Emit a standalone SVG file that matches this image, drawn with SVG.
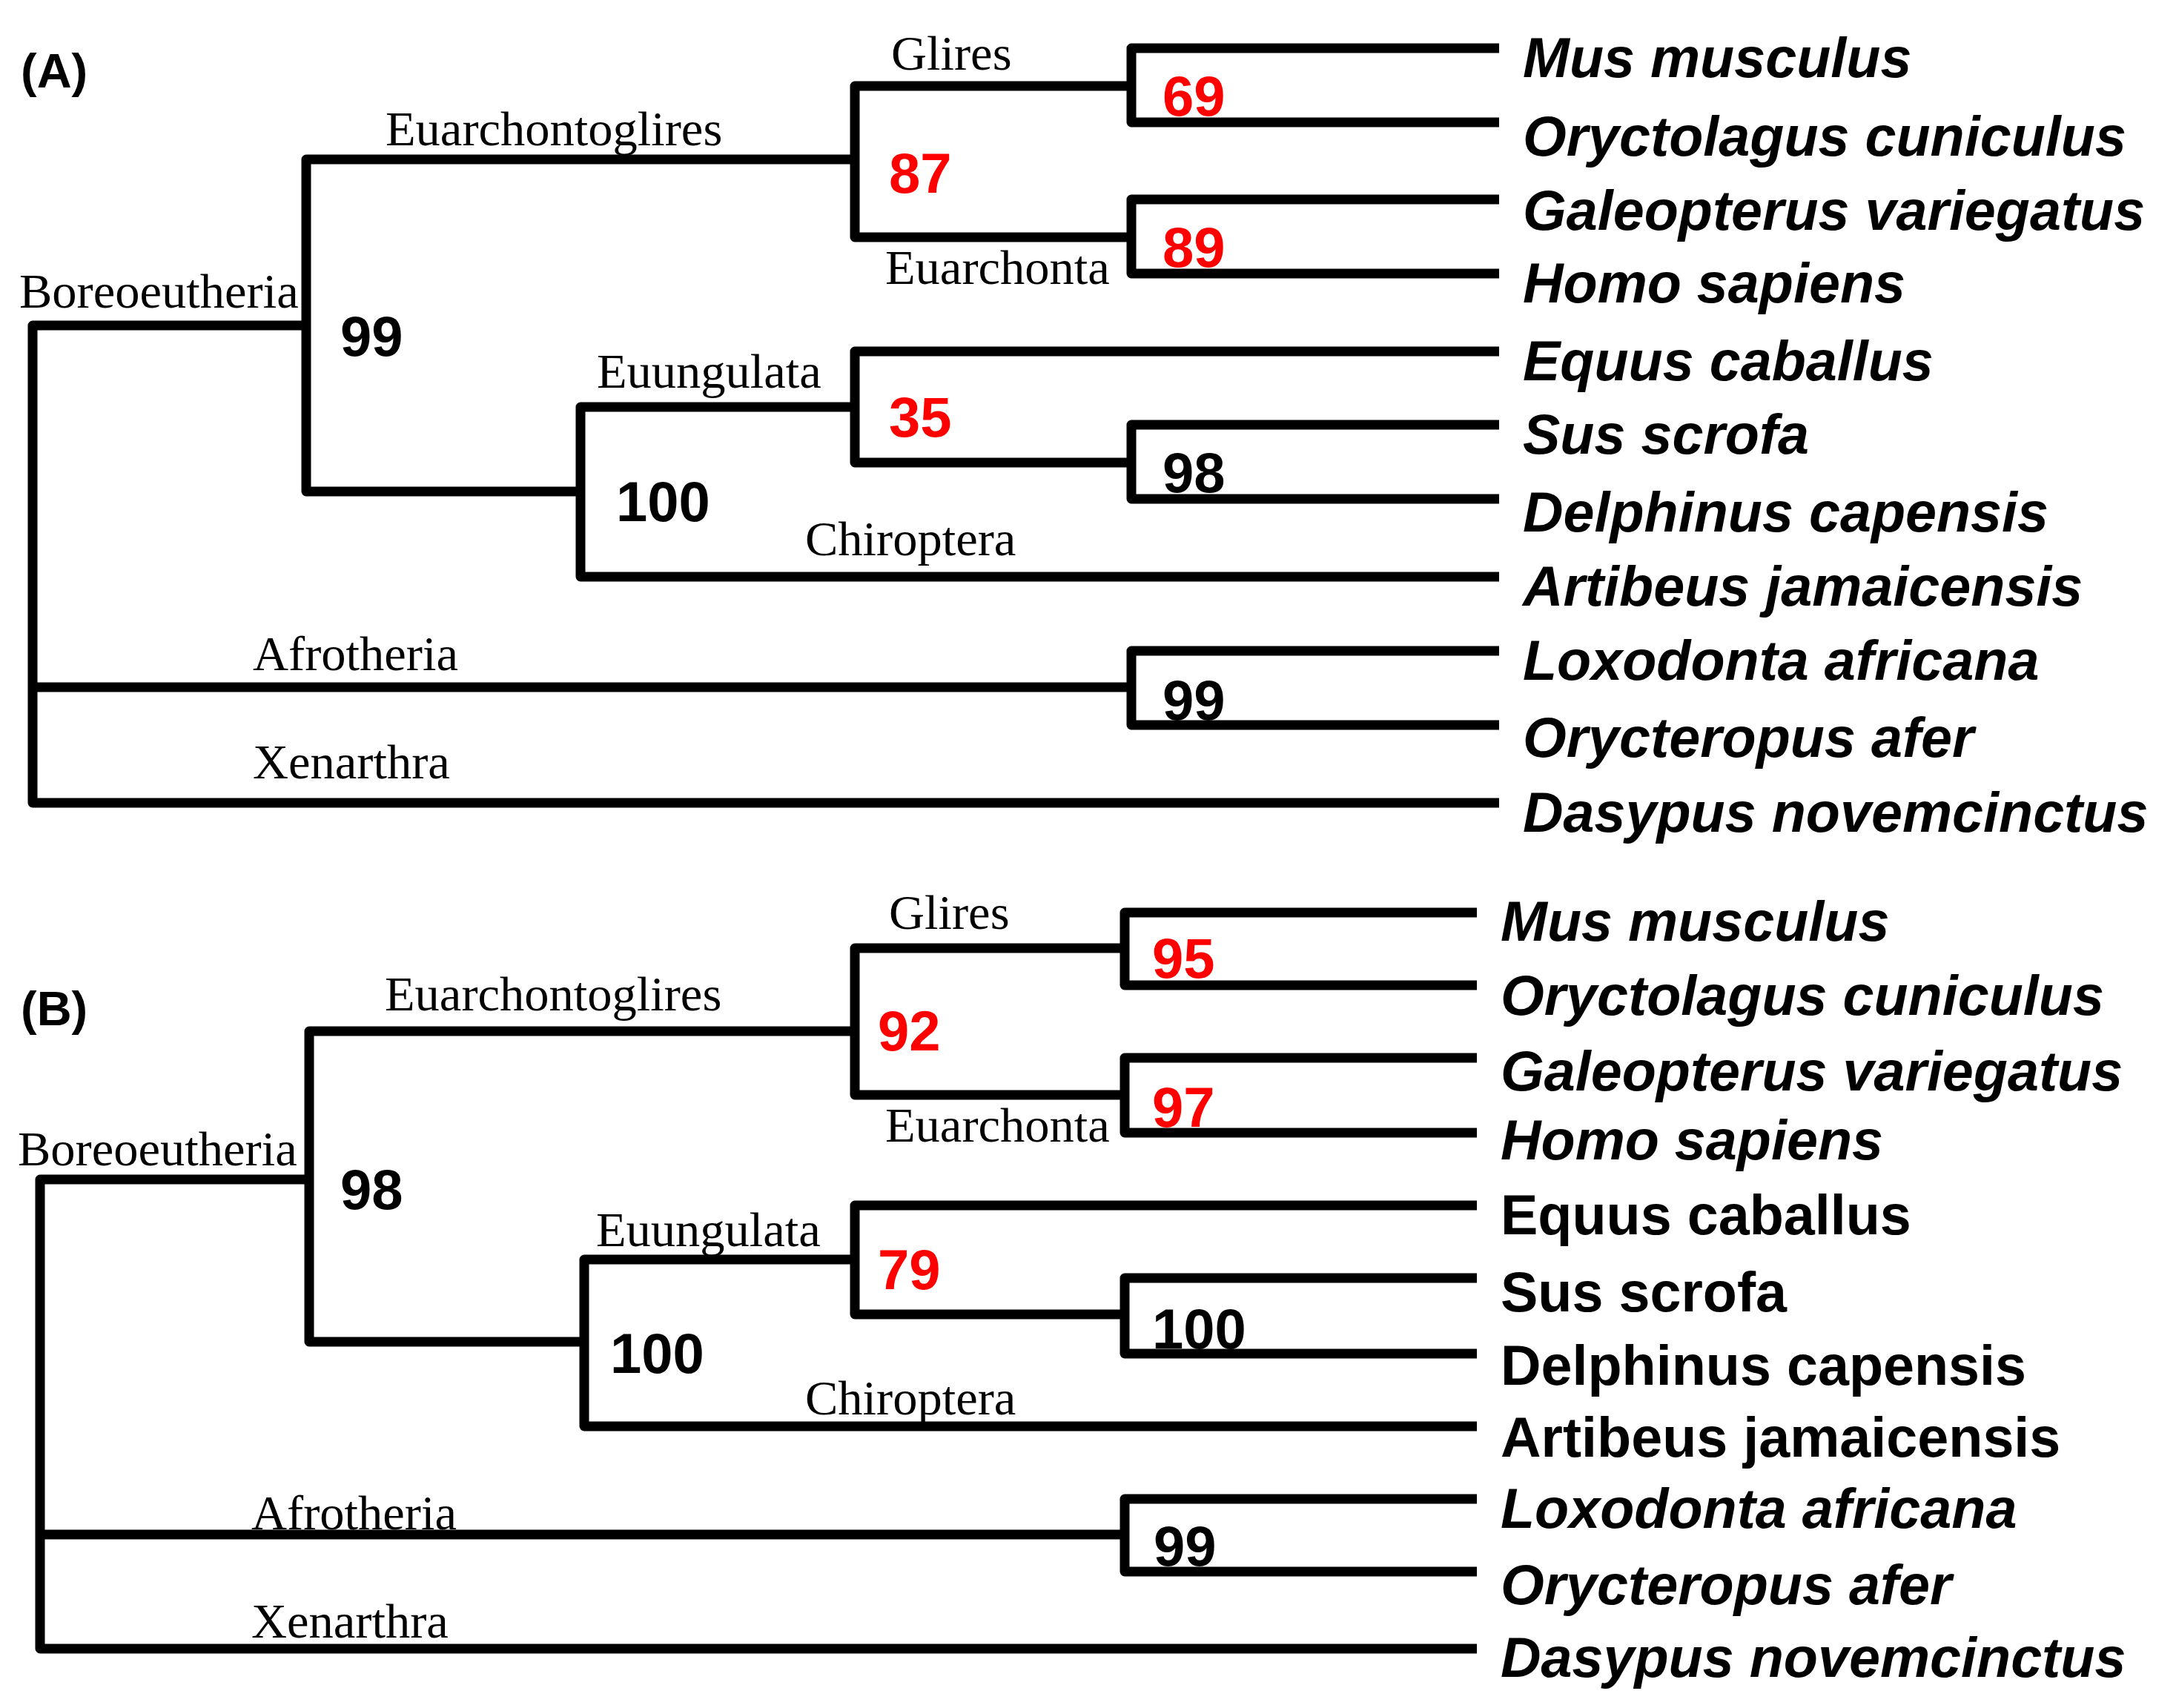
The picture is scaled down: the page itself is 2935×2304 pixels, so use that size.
<svg xmlns="http://www.w3.org/2000/svg" width="2935" height="2304" viewBox="0 0 2935 2304">
<style>
.br{fill:none;stroke:#000;stroke-width:13;stroke-linejoin:round;stroke-linecap:butt}
.sp{font-family:"Liberation Sans",Arial,sans-serif;font-weight:bold;font-style:italic;font-size:75.5px;fill:#000}
.up{font-style:normal}
.cl{font-family:"Liberation Serif","Times New Roman",serif;font-size:66.5px;fill:#000}
.bs{font-family:"Liberation Sans",Arial,sans-serif;font-weight:bold;font-size:76px;fill:#000}
.red{fill:#FF0000}
.pl{font-family:"Liberation Sans",Arial,sans-serif;font-weight:bold;font-size:65px;fill:#000}
</style>
<rect width="2935" height="2304" fill="#fff"/>
<g id="connectors">
  <g id="treeA">
    <path class="br" d="M413,439 H44 V1083 H2022"/>
    <path class="br" d="M44,927 H1526"/>
    <path class="br" d="M1153,215 H413 V663 H783"/>
    <path class="br" d="M1526,116 H1153 V320 H1526"/>
    <path class="br" d="M2022,65 H1526 V165 H2022"/>
    <path class="br" d="M2022,269 H1526 V369 H2022"/>
    <path class="br" d="M1153,549 H783 V778 H2022"/>
    <path class="br" d="M2022,474 H1153 V624 H1526"/>
    <path class="br" d="M2022,573 H1526 V673 H2022"/>
    <path class="br" d="M2022,878 H1526 V978 H2022"/>
  </g>
  <g id="treeB">
    <path class="br" d="M417,1591 H54 V2224 H1992"/>
    <path class="br" d="M54,2070 H1517"/>
    <path class="br" d="M1153,1391 H417 V1810 H788"/>
    <path class="br" d="M1517,1279 H1153 V1477 H1517"/>
    <path class="br" d="M1992,1231 H1517 V1329 H1992"/>
    <path class="br" d="M1992,1427 H1517 V1528 H1992"/>
    <path class="br" d="M1153,1699 H788 V1924 H1992"/>
    <path class="br" d="M1992,1626 H1153 V1773 H1517"/>
    <path class="br" d="M1992,1724 H1517 V1826 H1992"/>
    <path class="br" d="M1992,2022 H1517 V2120 H1992"/>
  </g>
</g>
<g id="panelA">
  <g id="labelA"><text class="pl" x="28" y="118">(A)</text></g>
  <g id="A-Boreoeutheria"><text class="cl" x="26" y="415">Boreoeutheria</text><text class="bs" x="459" y="480">99</text></g>
  <g id="A-Euarchontoglires"><text class="cl" x="520" y="196">Euarchontoglires</text><text class="bs red" x="1199" y="260">87</text></g>
  <g id="A-Glires"><text class="cl" x="1202" y="94">Glires</text><text class="bs red" x="1568" y="156">69</text></g>
  <g id="A-Euarchonta"><text class="cl" x="1194" y="383">Euarchonta</text><text class="bs red" x="1568" y="360">89</text></g>
  <g id="A-Laurasiatheria"><text class="bs" x="831" y="703">100</text></g>
  <g id="A-Euungulata"><text class="cl" x="805" y="523">Euungulata</text><text class="bs red" x="1199" y="589">35</text></g>
  <g id="A-SusDelphinus"><text class="bs" x="1568" y="664">98</text></g>
  <g id="A-Chiroptera"><text class="cl" x="1086" y="749">Chiroptera</text></g>
  <g id="A-Afrotheria"><text class="cl" x="341" y="904">Afrotheria</text><text class="bs" x="1568" y="971">99</text></g>
  <g id="A-Xenarthra"><text class="cl" x="341" y="1050">Xenarthra</text></g>
  <g id="A-tips">
    <text class="sp" x="2054" y="104">Mus musculus</text>
    <text class="sp" x="2054" y="210">Oryctolagus cuniculus</text>
    <text class="sp" x="2054" y="310">Galeopterus variegatus</text>
    <text class="sp" x="2054" y="408">Homo sapiens</text>
    <text class="sp" x="2054" y="513">Equus caballus</text>
    <text class="sp" x="2054" y="612">Sus scrofa</text>
    <text class="sp" x="2054" y="717">Delphinus capensis</text>
    <text class="sp" x="2054" y="817">Artibeus jamaicensis</text>
    <text class="sp" x="2054" y="917">Loxodonta africana</text>
    <text class="sp" x="2054" y="1021">Orycteropus afer</text>
    <text class="sp" x="2054" y="1122">Dasypus novemcinctus</text>
  </g>
</g>
<g id="panelB">
  <g id="labelB"><text class="pl" x="28" y="1383">(B)</text></g>
  <g id="B-Boreoeutheria"><text class="cl" x="24" y="1572">Boreoeutheria</text><text class="bs" x="459" y="1631">98</text></g>
  <g id="B-Euarchontoglires"><text class="cl" x="519" y="1363">Euarchontoglires</text><text class="bs red" x="1184" y="1417">92</text></g>
  <g id="B-Glires"><text class="cl" x="1199" y="1253">Glires</text><text class="bs red" x="1554" y="1319">95</text></g>
  <g id="B-Euarchonta"><text class="cl" x="1194" y="1540">Euarchonta</text><text class="bs red" x="1554" y="1520">97</text></g>
  <g id="B-Laurasiatheria"><text class="bs" x="823" y="1852">100</text></g>
  <g id="B-Euungulata"><text class="cl" x="804" y="1681">Euungulata</text><text class="bs red" x="1184" y="1739">79</text></g>
  <g id="B-SusDelphinus"><text class="bs" x="1554" y="1819">100</text></g>
  <g id="B-Chiroptera"><text class="cl" x="1086" y="1908">Chiroptera</text></g>
  <g id="B-Afrotheria"><text class="cl" x="339" y="2063">Afrotheria</text><text class="bs" x="1556" y="2112">99</text></g>
  <g id="B-Xenarthra"><text class="cl" x="339" y="2209">Xenarthra</text></g>
  <g id="B-tips">
    <text class="sp" x="2024" y="1269">Mus musculus</text>
    <text class="sp" x="2024" y="1369">Oryctolagus cuniculus</text>
    <text class="sp" x="2024" y="1471">Galeopterus variegatus</text>
    <text class="sp" x="2024" y="1564">Homo sapiens</text>
    <text class="sp up" x="2024" y="1665">Equus caballus</text>
    <text class="sp up" x="2024" y="1769">Sus scrofa</text>
    <text class="sp up" x="2024" y="1868">Delphinus capensis</text>
    <text class="sp up" x="2024" y="1965">Artibeus jamaicensis</text>
    <text class="sp" x="2024" y="2061">Loxodonta africana</text>
    <text class="sp" x="2024" y="2164">Orycteropus afer</text>
    <text class="sp" x="2024" y="2262">Dasypus novemcinctus</text>
  </g>
</g>
</svg>
